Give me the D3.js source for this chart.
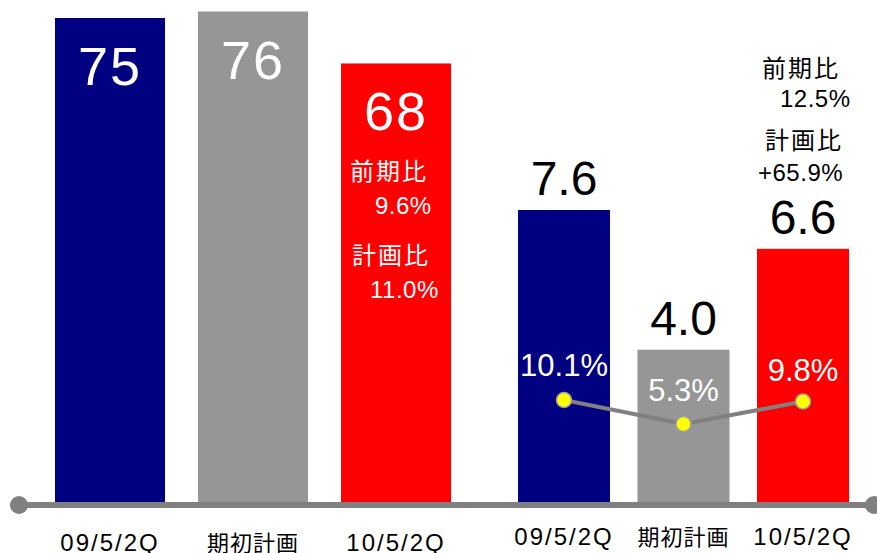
<!DOCTYPE html>
<html>
<head>
<meta charset="utf-8">
<script src="https://cdn.jsdelivr.net/npm/d3@7"></script>
<style>
  body { margin: 0; background: #fff; }
  svg { display: block; font-family: "Liberation Sans", Arial, "Noto Sans CJK JP", sans-serif; }
  .jp { font-family: "Noto Sans CJK JP", sans-serif; }
</style>
</head>
<body>
<div id="container"></div>
<script>
const categories = ["09/5/2Q", "期初計画", "10/5/2Q"];
const salesValues = [75, 76, 68];
const profitValues = [7.6, 4.0, 6.6];
const profitLabels = ["7.6", "4.0", "6.6"];
const marginValues = [10.1, 5.3, 9.8];
const marginLabels = ["10.1%", "5.3%", "9.8%"];
const salesNotes = ["前期比", "9.6%", "計画比", "11.0%"];
const profitNotes = ["前期比", "12.5%", "計画比", "+65.9%"];
const colors = ["#000080", "#969696", "#ff0000"];

const totalWidth = 877;
const totalHeight = 553;
const baseY = 505;

const svg = d3.select("#container")
  .append("svg")
  .attr("width", totalWidth)
  .attr("height", totalHeight);

// Scales
const xLeft = d3.scaleBand().domain(categories).range([55, 451]).paddingInner(0.2308).paddingOuter(0);
const xRight = d3.scaleBand().domain(categories).range([518, 849]).paddingInner(0.23).paddingOuter(0);
const yLeft = d3.scaleLinear().domain([0, 75]).range([baseY, 18]);
const yRight = d3.scaleLinear().domain([0, 7.6]).range([baseY, 210]);
const yPct = d3.scaleLinear().domain([0, 10.1]).range([450.5, 400]);

// Left bars (sales)
svg.append("g").selectAll("rect")
  .data(salesValues)
  .enter()
  .append("rect")
  .attr("x", (d, i) => xLeft(categories[i]))
  .attr("y", d => yLeft(d))
  .attr("width", xLeft.bandwidth())
  .attr("height", d => baseY + 3 - yLeft(d))
  .attr("fill", (d, i) => colors[i]);

svg.append("g").selectAll("text")
  .data(salesValues)
  .enter()
  .append("text")
  .attr("x", (d, i) => xLeft(categories[i]) + xLeft.bandwidth() / 2)
  .attr("y", d => yLeft(d) + 67)
  .attr("text-anchor", "middle")
  .attr("fill", "#fff")
  .style("font-size", "54px")
  .style("letter-spacing", "2px")
  .text(d => d);

// Notes inside red bar
const noteX = xLeft(categories[2]);
[[9, 180, 0], [34, 214, 1], [11, 264, 2], [29, 298, 3]].forEach(([dx, y, k]) => {
  svg.append("text")
    .attr("class", k % 2 === 0 ? "jp" : null)
    .attr("x", noteX + dx)
    .attr("y", y)
    .attr("fill", "#fff")
    .style("font-size", "24px")
    .style("letter-spacing", k % 2 === 0 ? "2px" : "0.5px")
    .text(salesNotes[k]);
});

// Right bars (profit)
svg.append("g").selectAll("rect")
  .data(profitValues)
  .enter()
  .append("rect")
  .attr("x", (d, i) => xRight(categories[i]))
  .attr("y", d => yRight(d))
  .attr("width", xRight.bandwidth())
  .attr("height", d => baseY - yRight(d))
  .attr("fill", (d, i) => colors[i]);

svg.append("g").selectAll("text")
  .data(profitValues)
  .enter()
  .append("text")
  .attr("x", (d, i) => xRight(categories[i]) + xRight.bandwidth() / 2)
  .attr("y", d => yRight(d) - 15)
  .attr("text-anchor", "middle")
  .attr("fill", "#000")
  .style("font-size", "48px")
  .text((d, i) => profitLabels[i]);

// Notes above the red profit bar
[[762, 77, 0], [780, 107, 1], [765, 149, 2], [758, 181, 3]].forEach(([x, y, k]) => {
  svg.append("text")
    .attr("class", k % 2 === 0 ? "jp" : null)
    .attr("x", x)
    .attr("y", y)
    .attr("fill", "#000")
    .style("font-size", "24px")
    .style("letter-spacing", k % 2 === 0 ? "2px" : "0.5px")
    .text(profitNotes[k]);
});

// Margin line
const cx = (d, i) => xRight(categories[i]) + xRight.bandwidth() / 2;
const line = d3.line()
  .x((d, i) => cx(d, i))
  .y(d => yPct(d));

svg.append("path")
  .datum(marginValues)
  .attr("d", line)
  .attr("fill", "none")
  .attr("stroke", "#808080")
  .attr("stroke-width", 4);

svg.append("g").selectAll("circle")
  .data(marginValues)
  .enter()
  .append("circle")
  .attr("cx", cx)
  .attr("cy", d => yPct(d))
  .attr("r", 7.5)
  .attr("fill", "#ffff00")
  .attr("stroke", "#a0a0a0")
  .attr("stroke-width", 1.5);

const pctOffsets = [-24, -23, -21];
svg.append("g").selectAll("text")
  .data(marginValues)
  .enter()
  .append("text")
  .attr("x", cx)
  .attr("y", (d, i) => yPct(d) + pctOffsets[i])
  .attr("text-anchor", "middle")
  .attr("fill", "#fff")
  .style("font-size", "31px")
  .text((d, i) => marginLabels[i]);

// Baseline
svg.append("line")
  .attr("x1", 19).attr("x2", 874)
  .attr("y1", baseY).attr("y2", baseY)
  .attr("stroke", "#808080")
  .attr("stroke-width", 6);

svg.selectAll("circle.end")
  .data([19, 874])
  .enter()
  .append("circle")
  .attr("class", "end")
  .attr("cx", d => d)
  .attr("cy", baseY)
  .attr("r", 9)
  .attr("fill", "#808080");

// Category labels
const labelRows = [[xLeft, 551], [xRight, 545]];
labelRows.forEach(([scale, y]) => {
  svg.append("g").selectAll("text")
    .data(categories)
    .enter()
    .append("text")
    .attr("class", d => d === "期初計画" ? "jp" : null)
    .attr("x", d => scale(d) + scale.bandwidth() / 2)
    .attr("y", y)
    .attr("text-anchor", "middle")
    .style("font-size", d => d === "期初計画" ? "22px" : "24px")
    .style("letter-spacing", d => d === "期初計画" ? "1px" : "2px")
    .text(d => d);
});
</script>
</body>
</html>
